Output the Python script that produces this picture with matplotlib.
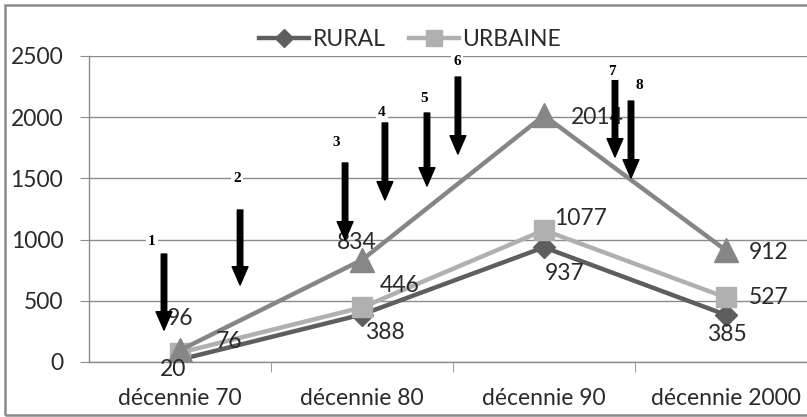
import matplotlib
matplotlib.use("Agg")
import matplotlib.pyplot as plt
from matplotlib.patches import Rectangle

categories = ["décennie 70", "décennie 80", "décennie 90", "décennie 2000"]
rural = [20, 388, 937, 385]
urbaine = [76, 446, 1077, 527]
total = [96, 834, 2014, 912]

# annotation arrows (category units, value units)
arrow_labels = ["1", "2", "3", "4", "5", "6", "7", "8"]
arrow_x = [-0.088, 0.330, 0.907, 1.126, 1.357, 1.527, 2.390, 2.478]
arrow_y0 = [882, 1242, 1626, 1953, 2034, 2328, 2304, 2132]
arrow_y1 = [261, 629, 997, 1324, 1438, 1699, 1675, 1503]
label_x = [-0.154, 0.313, 0.857, 1.110, 1.341, 1.522, 2.374, 2.522]
label_y = [988, 1503, 1797, 2042, 2149, 2459, 2377, 2255]

W, H, DPI = 807, 417, 100
fig = plt.figure(figsize=(W / DPI, H / DPI), dpi=DPI)
fig.patch.set_facecolor("white")
# outer frame
fig.patches.append(Rectangle((5 / W, 2 / H), (W + 10) / W, (H - 7) / H,
                             transform=fig.transFigure, fill=False,
                             edgecolor="#8a8a8a", linewidth=1.8, zorder=0))

ax = fig.add_axes([89 / W, 1 - 362 / H, 728 / W, 306 / H])
font = "Lato"
FS = 16.5
x = list(range(len(categories)))

c_rural, c_urb, c_tot = "#5e5e5e", "#b0b0b0", "#868686"
lr, = ax.plot(x, rural, color=c_rural, lw=3.2, marker="D", ms=11, zorder=3,
              label="RURAL")
lu, = ax.plot(x, urbaine, color=c_urb, lw=3.2, marker="s", ms=15, zorder=4,
              label="URBAINE")
lt, = ax.plot(x, total, color=c_tot, lw=3.2, marker="^", ms=17, zorder=5)

ax.set_xlim(-0.5, 3.5)
ax.set_ylim(0, 2500)
ax.set_yticks(range(0, 2501, 500))
ax.set_xticks(x)
ax.set_xticklabels(categories)
ax.set_xticks([0.5, 1.5, 2.5], minor=True)
ax.grid(axis="y", color="#8c8c8c", lw=1.0, zorder=0)
for s in ["top", "right"]:
    ax.spines[s].set_visible(False)
for s in ["left", "bottom"]:
    ax.spines[s].set_color("#8c8c8c")
    ax.spines[s].set_linewidth(1.0)
ax.tick_params(axis="y", length=6.5, color="#8c8c8c", pad=12, labelsize=FS,
               labelcolor="#2a2a2a")
ax.tick_params(axis="x", which="major", length=0, pad=19, labelsize=FS,
               labelcolor="#2a2a2a")
ax.tick_params(axis="x", which="minor", length=7, color="#8c8c8c")
for lab in ax.get_xticklabels() + ax.get_yticklabels():
    lab.set_fontfamily(font)

# data labels (offsets in pixels)
def lab(xi, v, dx, dy):
    ax.annotate(str(v), (xi, v), xytext=(dx * 0.72, dy * 0.72),
                textcoords="offset points", ha="center", va="center",
                fontsize=FS, fontfamily=font, color="#2a2a2a", zorder=6)

tot_off = [(0, 32), (-5, 17), (53, -2), (43, -2)]
urb_off = [(49, 11), (38, 22), (37, 12), (43, 0)]
rur_off = [(-7, -10), (23, -18), (21, -26), (1, -20)]
for i in x:
    lab(i, total[i], *tot_off[i])
    lab(i, urbaine[i], *urb_off[i])
    lab(i, rural[i], *rur_off[i])

# arrows
for xa, y0, y1 in zip(arrow_x, arrow_y0, arrow_y1):
    ax.annotate("", xy=(xa, y1), xytext=(xa, y0),
                arrowprops=dict(arrowstyle="simple,head_length=1.1,head_width=0.95,tail_width=0.33",
                                mutation_scale=12, color="black", shrinkA=0, shrinkB=0),
                zorder=7, annotation_clip=False)
for t, xl, yl in zip(arrow_labels, label_x, label_y):
    ax.text(xl, yl, t, ha="center", va="center", fontsize=11,
            fontfamily="Liberation Serif", fontweight="bold", color="black",
            zorder=7, bbox=dict(facecolor="white", edgecolor="none", pad=1.5))

leg = ax.legend(handles=[lr, lu], loc="center", bbox_to_anchor=(410 / W, 1 - 40 / H),
                bbox_transform=fig.transFigure, ncol=2, frameon=False,
                prop={"family": font, "size": FS}, handlelength=2.2,
                handletextpad=0.15, columnspacing=1.0, markerscale=0.8)
for t in leg.get_texts():
    t.set_color("#2a2a2a")

fig.savefig("out.png", dpi=DPI, facecolor="white")
